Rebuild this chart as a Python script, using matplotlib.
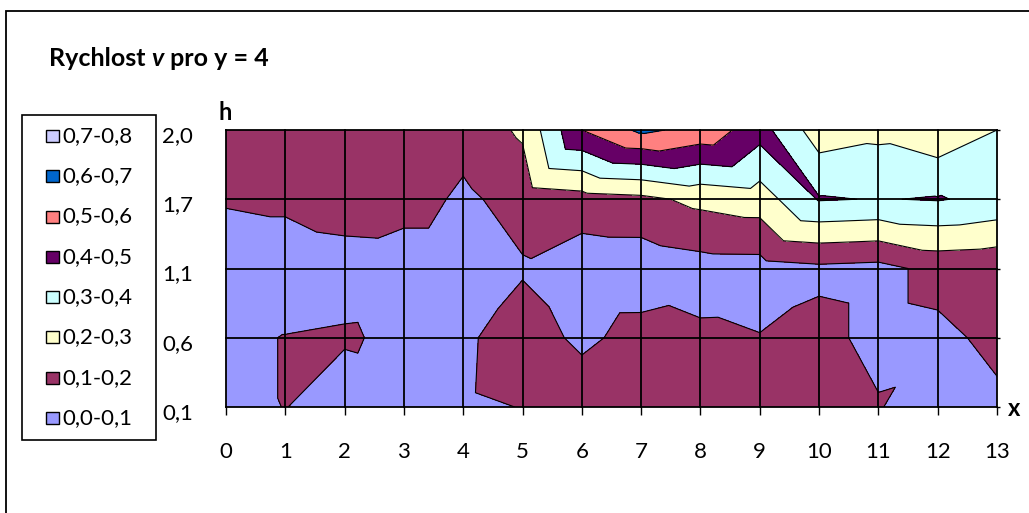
import matplotlib
matplotlib.use('Agg')
import matplotlib.pyplot as plt
import matplotlib.tri as mtri
from matplotlib.patches import Rectangle
from matplotlib.transforms import ScaledTranslation
import numpy as np

plt.rcParams['font.family'] = ['Lato', 'DejaVu Sans']

W, H = 1029, 513

# x positions and height categories
x_vals = list(range(14))
h_labels = ['0,1', '0,6', '1,1', '1,7', '2,0']

# velocity v for y = 4, one list per height h
v_h01 = [0.03, 0.105, 0.0, 0.03, 0.087, 0.102, 0.163, 0.16, 0.15, 0.15, 0.15, 0.108, 0.02, 0.084]
v_h06 = [0.066, 0.105, 0.12, 0.06, 0.083, 0.15, 0.079, 0.135, 0.116, 0.103, 0.13, 0.07, 0.08, 0.12]
v_h11 = [0.0, 0.0, 0.02, 0.03, 0.03, 0.09, 0.038, 0.039, 0.06, 0.062, 0.08, 0.07, 0.13, 0.12]
v_h17 = [0.115, 0.134, 0.19, 0.15, 0.08, 0.14, 0.16, 0.175, 0.225, 0.25, 0.407, 0.396, 0.406, 0.376]
v_h20 = [0.15, 0.15, 0.15, 0.15, 0.14, 0.215, 0.50, 0.62, 0.57, 0.44, 0.247, 0.274, 0.229, 0.30]

levels = [0.0, 0.1, 0.2, 0.3, 0.4, 0.5, 0.6, 0.7, 0.8]
band_labels = ['0,0-0,1', '0,1-0,2', '0,2-0,3', '0,3-0,4',
               '0,4-0,5', '0,5-0,6', '0,6-0,7', '0,7-0,8']
band_colors = ['#9999FF', '#993366', '#FFFFCC', '#CCFFFF',
               '#660066', '#FF8080', '#0066CC', '#CCCCFF']

Z = np.array([v_h01, v_h06, v_h11, v_h17, v_h20])
nrow, ncol = Z.shape
X, Y = np.meshgrid(np.arange(ncol), np.arange(nrow))
zf = Z.ravel()

# split every cell into two triangles along the diagonal with the larger sum
tris = []
for j in range(nrow - 1):
    for i in range(ncol - 1):
        a = j * ncol + i
        b = a + 1
        c = a + ncol
        d = c + 1
        if zf[a] + zf[d] >= zf[b] + zf[c]:
            tris += [[a, b, d], [a, d, c]]
        else:
            tris += [[a, b, c], [b, d, c]]
tri = mtri.Triangulation(X.ravel(), Y.ravel(), np.array(tris))

fig = plt.figure(figsize=(W / 100, H / 100), dpi=100)
ax = fig.add_axes([226 / W, 1 - 407 / H, 771 / W, 277 / H])

ax.tricontourf(tri, zf, levels=levels, colors=band_colors, zorder=1)
ax.tricontour(tri, zf, levels=levels[1:-1], colors='black', linewidths=0.8, zorder=2)

for xv in x_vals:
    ax.axvline(xv, color='black', lw=1.3, zorder=3, clip_on=False)
for k in range(nrow):
    ax.axhline(k, color='black', lw=1.3, zorder=3, clip_on=False)

ax.set_xlim(0, ncol - 1)
ax.set_ylim(0, nrow - 1)
for s in ax.spines.values():
    s.set_visible(False)

ax.set_xticks(x_vals)
ax.set_xticklabels([str(v) for v in x_vals])
ax.set_yticks(range(nrow))
ax.set_yticklabels(h_labels)
ax.tick_params(axis='x', direction='out', length=6, width=1, pad=19, labelsize=16)
ax.tick_params(axis='y', left=False, right=True, direction='out', length=2.5,
               width=1, pad=21, labelsize=16)
for lab in ax.get_yticklabels():
    lab.set_transform(lab.get_transform() + ScaledTranslation(0, -4 / 100, fig.dpi_scale_trans))

fig.text(225 / W, 1 - 113 / H, 'h', fontsize=17, fontweight='bold', ha='center', va='center')
fig.text(1014 / W, 1 - 409 / H, 'x', fontsize=17, fontweight='bold', ha='center', va='center')

# title with italic v
ty = 1 - 58 / H
t1 = fig.text(49 / W, ty, 'Rychlost ', fontsize=18, fontweight='bold', va='center')
fig.canvas.draw()
r = fig.canvas.get_renderer()
bb = t1.get_window_extent(r)
t2 = fig.text(bb.x1 / W, ty, 'v', fontsize=18, fontweight='bold', style='italic', va='center')
bb2 = t2.get_window_extent(r)
fig.text(bb2.x1 / W, ty, ' pro y = 4', fontsize=18, fontweight='bold', va='center')

# legend box, highest band on top
fig.patches.append(Rectangle((22 / W, 1 - 440 / H), 134 / W, 325 / H, transform=fig.transFigure,
                             facecolor='white', edgecolor='black', lw=1.2))
row_y = np.linspace(136, 418, len(band_labels))
for yc, lab, col in zip(row_y, band_labels[::-1], band_colors[::-1]):
    fig.patches.append(Rectangle((46 / W, 1 - (yc + 6) / H), 13 / W, 12 / H,
                                 transform=fig.transFigure, facecolor=col,
                                 edgecolor='black', lw=1.0))
    fig.text(62 / W, 1 - yc / H, lab, fontsize=16, ha='left', va='center')

# chart border
fig.patches.append(Rectangle((6 / W, -0.1), 1.2, 0.1 + 1 - 11 / H,
                             transform=fig.transFigure, fill=False,
                             edgecolor='black', lw=1.3))

fig.savefig('out.png', dpi=100)
